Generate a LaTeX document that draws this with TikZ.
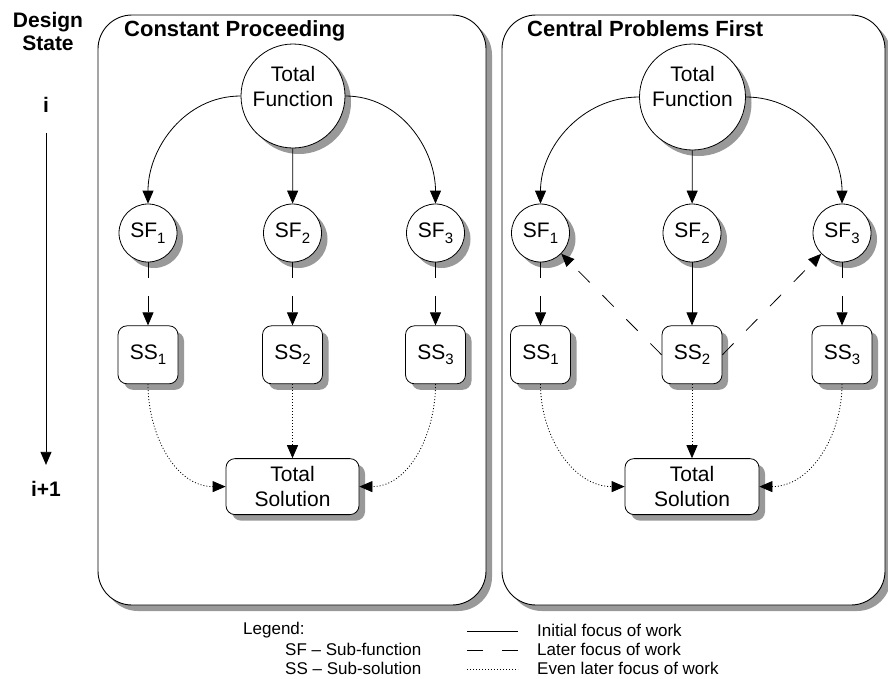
\documentclass[tikz,border=0pt]{standalone}
\usepackage{fontspec}
\setmainfont{Liberation Sans}
\usetikzlibrary{arrows.meta, positioning, shadows}

\newcommand{\nodefont}{\fontsize{21}{25}\selectfont}
\newcommand{\headfont}{\fontsize{22}{23}\selectfont\bfseries}
\newcommand{\statefont}{\fontsize{21}{23}\selectfont\bfseries}
\newcommand{\legendfont}{\fontsize{17}{19}\selectfont}
\newcommand{\subidx}[1]{\raisebox{-5.5pt}{\fontsize{15}{15}\selectfont #1}}

\begin{document}
\begin{tikzpicture}[
            x=1pt, y=1pt,
            boxshadow/.style={drop shadow={shadow xshift=6pt, shadow yshift=-6pt, fill=black!40, opacity=1}},
            panel/.style={rectangle, rounded corners=34pt, draw, line width=0.9pt, fill=white,
                          boxshadow, minimum height=590pt},
            func/.style={circle, draw, fill=white, line width=0.8pt, boxshadow, inner sep=0pt,
                         font=\nodefont},
            sub/.style={rectangle, rounded corners=9pt, draw, fill=white, line width=0.8pt, boxshadow,
                        inner sep=0pt, align=center, font=\nodefont},
            txt/.style={font=\nodefont, align=center, inner sep=0pt},
            paneltitle/.style={font=\headfont, anchor=base west, inner sep=0pt},
            legendtext/.style={font=\legendfont, anchor=west, inner sep=0pt},
            arrow/.style={-{Triangle[length=13pt, width=11pt]}, line width=0.8pt},
            later/.style={arrow, dash pattern=on 16pt off 18pt},
            evenlater/.style={arrow, dash pattern=on 1pt off 2pt}
        ]
            \useasboundingbox (0,0) rectangle (888,-678);

            % Panels
            \node[panel, minimum width=388pt] (cpPanel) at (292,-310) {};
            \node[panel, minimum width=383pt] (cfPanel) at (693.5,-310) {};
            \node[paneltitle] (cpTitle) at (124,-36) {Constant Proceeding};
            \node[paneltitle] (cfTitle) at (527,-36) {Central Problems First};

            % Design state
            \node[font=\statefont, align=center] (state) at (48,-31) {Design\\State};
            \node[font=\statefont] (stI) at (46,-105) {i};
            \node[font=\statefont] (stNext) at (46,-489) {i+1};
            \draw[arrow, shorten <=17pt, shorten >=13pt] (stI) -- (stNext);

            % Constant proceeding
            \node[func, minimum size=104pt] (cpTotal) at (293,-96) {};
            \node[txt] (cpTotalText) at (293,-86) {Total\\Function};
            \node[func, minimum size=58pt] (cpSF1) at (148,-233) {SF\subidx{1}};
            \node[func, minimum size=58pt] (cpSF2) at (292.5,-233) {SF\subidx{2}};
            \node[func, minimum size=58pt] (cpSF3) at (435.5,-233) {SF\subidx{3}};
            \node[sub, minimum width=60pt, minimum height=58pt, below=63pt of cpSF1] (cpSS1) {SS\subidx{1}};
            \node[sub, minimum width=60pt, minimum height=58pt, below=63pt of cpSF2] (cpSS2) {SS\subidx{2}};
            \node[sub, minimum width=60pt, minimum height=58pt, below=63pt of cpSF3] (cpSS3) {SS\subidx{3}};
            \node[sub, minimum width=133pt, minimum height=56pt, below=74pt of cpSS2] (cpSol) {Total\\Solution};

            \draw[arrow] (cpTotal.west) to[out=180, in=90] (cpSF1.north);
            \draw[arrow] (cpTotal) -- (cpSF2);
            \draw[arrow] (cpTotal.east) to[out=0, in=90] (cpSF3.north);
            \draw[later] (cpSF1) -- (cpSS1);
            \draw[later] (cpSF2) -- (cpSS2);
            \draw[later] (cpSF3) -- (cpSS3);
            \draw[evenlater] (cpSS1.south) to[out=-90, in=180] (cpSol.west);
            \draw[evenlater] (cpSS2) -- (cpSol);
            \draw[evenlater] (cpSS3.south) to[out=-90, in=0] (cpSol.east);

            % Central problems first
            \node[func, minimum size=106pt] (cfTotal) at (692.5,-97) {};
            \node[txt] (cfTotalText) at (692.5,-86) {Total\\Function};
            \node[func, minimum size=58pt] (cfSF1) at (540.5,-233) {SF\subidx{1}};
            \node[func, minimum size=58pt] (cfSF2) at (692,-233) {SF\subidx{2}};
            \node[func, minimum size=58pt] (cfSF3) at (842,-233) {SF\subidx{3}};
            \node[sub, minimum width=60pt, minimum height=58pt, below=63pt of cfSF1] (cfSS1) {SS\subidx{1}};
            \node[sub, minimum width=60pt, minimum height=58pt, below=63pt of cfSF2] (cfSS2) {SS\subidx{2}};
            \node[sub, minimum width=60pt, minimum height=58pt, below=63pt of cfSF3] (cfSS3) {SS\subidx{3}};
            \node[sub, minimum width=134pt, minimum height=56pt, below=74pt of cfSS2] (cfSol) {Total\\Solution};

            \draw[arrow] (cfTotal.west) to[out=180, in=90] (cfSF1.north);
            \draw[arrow] (cfTotal) -- (cfSF2);
            \draw[arrow] (cfTotal.east) to[out=0, in=90] (cfSF3.north);
            \draw[later] (cfSF1) -- (cfSS1);
            \draw[arrow] (cfSF2) -- (cfSS2);
            \draw[later] (cfSF3) -- (cfSS3);
            \draw[later] (cfSS2.west) -- (cfSF1.south east);
            \draw[later] (cfSS2.east) -- (cfSF3.south west);
            \draw[evenlater] (cfSS1.south) to[out=-90, in=180] (cfSol.west);
            \draw[evenlater] (cfSS2) -- (cfSol);
            \draw[evenlater] (cfSS3.south) to[out=-90, in=0] (cfSol.east);

            % Legend
            \node[legendtext] (lgHead) at (243,-630) {Legend:};
            \node[legendtext] (lgSF) at (285,-649) {SF – Sub-function};
            \node[legendtext] (lgSS) at (285,-668) {SS – Sub-solution};
            \coordinate (lgA1) at (467,-631);
            \coordinate (lgA2) at (518,-631);
            \coordinate (lgB1) at (467,-650);
            \coordinate (lgB2) at (518,-650);
            \coordinate (lgC1) at (467,-669);
            \coordinate (lgC2) at (518,-669);
            \draw[line width=0.8pt] (lgA1) -- (lgA2);
            \draw[line width=0.8pt, dash pattern=on 16pt off 19pt] (lgB1) -- (lgB2);
            \draw[line width=0.8pt, dash pattern=on 1pt off 2pt] (lgC1) -- (lgC2);
            \node[legendtext] (lgInitial) at (537,-630) {Initial focus of work};
            \node[legendtext] (lgLater) at (537,-649) {Later focus of work};
            \node[legendtext] (lgEven) at (537,-668) {Even later focus of work};
        \end{tikzpicture}
\end{document}
